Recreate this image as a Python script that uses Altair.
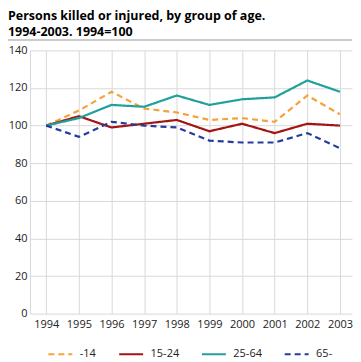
import altair as alt
import pandas as pd

years = [1994, 1995, 1996, 1997, 1998, 1999, 2000, 2001, 2002, 2003]
groups = ["-14", "15-24", "25-64", "65-"]
age_u14 = [100, 108, 118, 109, 107, 103, 104, 102, 116, 106]
age_15_24 = [100, 105, 99, 101, 103, 97, 101, 96, 101, 100]
age_25_64 = [100, 104, 111, 110, 116, 111, 114, 115, 124, 118]
age_65 = [100, 94, 102, 100, 99, 92, 91, 91, 96, 88]
y_ticks = [0, 20, 40, 60, 80, 100, 120, 140]

colors = ["#F7A13B", "#A31414", "#1FA09C", "#243C9E"]
dashes = [[6, 4], [1, 0], [1, 0], [6, 4]]

series = [age_u14, age_15_24, age_25_64, age_65]
rows = []
for g, vals in zip(groups, series):
    for yr, v in zip(years, vals):
        rows.append({"year": yr, "group": g, "value": v})
df = pd.DataFrame(rows)

FONT = "Open Sans"

legend = alt.Legend(title=None, orient="none", direction="horizontal",
                    legendX=17, legendY=291, symbolType="stroke",
                    symbolSize=576, symbolStrokeWidth=2.2,
                    labelFontSize=11, labelFont=FONT, labelColor="#222222",
                    columnPadding=18, labelOffset=6)

lines = alt.Chart(df).mark_line(strokeWidth=2.2).encode(
    x=alt.X("year:Q", title=None,
            scale=alt.Scale(domain=[1993.5, 2003.37], nice=False, zero=False),
            axis=alt.Axis(values=years, format="d", labelAngle=0, grid=True,
                          gridColor="#d9d9d9", domain=False, ticks=False, labelPadding=5,
                          labelFontSize=11, labelFont=FONT, labelColor="#222222",
                          labelFlush=False)),
    y=alt.Y("value:Q", title=None,
            scale=alt.Scale(domain=[0, 140], nice=False),
            axis=alt.Axis(values=y_ticks, grid=True, gridColor="#d9d9d9", domain=True,
                          domainColor="#d9d9d9", ticks=False, labelPadding=3,
                          labelFontSize=11, labelFont=FONT, labelColor="#222222")),
    color=alt.Color("group:N", sort=groups,
                    scale=alt.Scale(domain=groups, range=colors),
                    legend=legend),
    strokeDash=alt.StrokeDash("group:N", sort=groups,
                              scale=alt.Scale(domain=groups, range=dashes),
                              legend=legend),
)

sep_top = alt.Chart(pd.DataFrame({"a": [0]})).mark_rect(
    color="#999999", opacity=1, clip=False
).encode(x=alt.value(-22), x2=alt.value(323), y=alt.value(-11), y2=alt.value(-10))

chart = alt.layer(lines, sep_top).properties(
    width=323, height=264,
    padding={"left": 0, "top": 1, "right": 0, "bottom": 0},
    title=alt.TitleParams(
        text=["Persons killed or injured, by group of age.", "1994-2003. 1994=100"],
        anchor="start", frame="bounds", font=FONT, fontSize=12.5, fontWeight="bold",
        lineHeight=16, color="#000000", offset=1),
).configure_view(stroke=None)

chart.save("out.html", embed_options={"renderer": "svg", "actions": False})
